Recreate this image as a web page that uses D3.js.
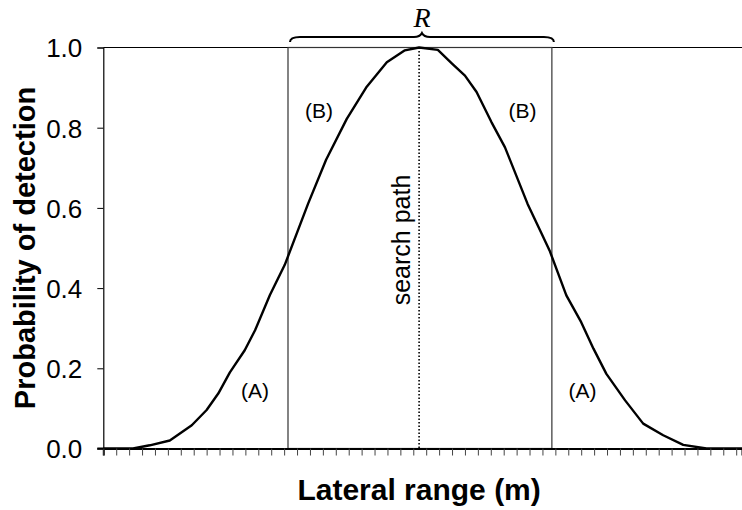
<!DOCTYPE html>
<html>
<head>
<meta charset="utf-8">
<script src="https://cdn.jsdelivr.net/npm/d3@7"></script>
<style>
  body { margin: 0; background: #fff; }
  svg { display: block; font-family: Arial, "Liberation Sans", sans-serif; }
</style>
</head>
<body>
<svg id="chart" width="742" height="510"></svg>
<script>
// Data (x in tick units, y = probability)
var curveX = [0, 2.3, 3.6, 5.15, 6.85, 8.0, 8.9, 9.8, 10.95, 11.75, 12.9, 14.05, 15.85, 17.25, 18.85, 20.35, 21.95, 23.35, 24.45,
  25.9, 27.0, 28.0, 28.9, 30.05, 31.1, 32.85, 33.95, 34.55, 35.85, 37.0, 37.95, 38.95, 40.4, 41.8, 43.35, 44.9, 46.7, 49.45];
var curveY = [0, 0, 0.008, 0.02, 0.058, 0.096, 0.137, 0.19, 0.245, 0.295, 0.383, 0.458, 0.61, 0.72, 0.822, 0.9, 0.963, 0.993, 1.0,
  0.994, 0.96, 0.93, 0.889, 0.814, 0.751, 0.61, 0.535, 0.494, 0.382, 0.315, 0.249, 0.186, 0.12, 0.062, 0.033, 0.009, 0, 0];
var yTicks = [0, 0.2, 0.4, 0.6, 0.8, 1.0];
var xTickCount = 50;
var sweepLeft = 14.3, sweepRight = 34.73;
var searchPath = 24.45;
var labels = [
  {text: "(B)", x: 16.7, y: 0.823},
  {text: "(B)", x: 32.45, y: 0.823},
  {text: "(A)", x: 11.74, y: 0.125},
  {text: "(A)", x: 37.11, y: 0.125}
];

const svg = d3.select("#chart");
const margin = { left: 103.3, top: 47.5, bottom: 448.5 };

const x = d3.scaleLinear().domain([0, 49.45]).range([margin.left, 742]);
const y = d3.scaleLinear().domain([0, 1]).range([margin.bottom, margin.top]);

// Top line at 1.0
svg.append("line")
  .attr("x1", x(0)).attr("x2", x(49.45))
  .attr("y1", y(1)).attr("y2", y(1))
  .attr("stroke", "#000").attr("stroke-width", 1.2);

// sweep rectangle
svg.append("rect")
  .attr("x", x(sweepLeft))
  .attr("y", y(1))
  .attr("width", x(sweepRight) - x(sweepLeft))
  .attr("height", y(0) - y(1))
  .attr("fill", "none")
  .attr("stroke", "#333")
  .attr("stroke-width", 1.2);

// search path
svg.append("line")
  .attr("x1", x(searchPath)).attr("x2", x(searchPath))
  .attr("y1", y(1)).attr("y2", y(0))
  .attr("stroke", "#000")
  .attr("stroke-width", 1.6)
  .attr("stroke-dasharray", "1.5,2");

svg.append("text")
  .attr("transform", `translate(${x(searchPath) - 9},240) rotate(-90)`)
  .attr("text-anchor", "middle")
  .style("font-size", "25px")
  .text("search path");

// curve
const pts = curveX.map((d, i) => [d, curveY[i]]);
svg.append("path")
  .datum(pts)
  .attr("fill", "none")
  .attr("stroke", "#000")
  .attr("stroke-width", 2.4)
  .attr("stroke-linejoin", "round")
  .attr("d", d3.line().x(d => x(d[0])).y(d => y(d[1])));

// axes
const yaxis = d3.axisLeft(y).tickValues(yTicks).tickFormat(d3.format(".1f")).tickSizeOuter(0).tickSize(6).tickPadding(15);
const gy = svg.append("g").attr("transform", `translate(${x(0)},0)`).call(yaxis);
gy.selectAll("text").style("font-size", "26px").style("fill", "#000").attr("dy", "0.36em");
gy.select(".domain").attr("stroke-width", 1.2);

const xaxis = d3.axisBottom(x).tickValues(d3.range(xTickCount)).tickFormat("").tickSizeOuter(0).tickSize(7);
const gx = svg.append("g").attr("transform", `translate(0,${y(0)})`).call(xaxis);
gx.select(".domain").attr("stroke-width", 2);
gx.selectAll(".tick line").attr("stroke", "#444");
// extend baseline to the left tick
svg.append("line")
  .attr("x1", x(0) - 6).attr("x2", x(0))
  .attr("y1", y(0)).attr("y2", y(0))
  .attr("stroke", "#000").attr("stroke-width", 2);

// region labels
svg.selectAll(".lab")
  .data(labels)
  .enter()
  .append("text")
  .attr("class", "lab")
  .attr("x", d => x(d.x))
  .attr("y", d => y(d.y))
  .attr("text-anchor", "middle")
  .style("font-size", "21px")
  .text(d => d.text);

// brace for R
const bl = x(sweepLeft) + 2, br = x(sweepRight) + 2, bm = (bl + br) / 2;
const by = 37;
svg.append("path")
  .attr("fill", "none")
  .attr("stroke", "#000")
  .attr("stroke-width", 2)
  .attr("d", `M${bl},${by + 5} Q${bl},${by} ${bl + 10},${by} L${bm - 8},${by} Q${bm - 2},${by} ${bm},${by - 4}`
    + ` Q${bm + 2},${by} ${bm + 8},${by} L${br - 10},${by} Q${br},${by} ${br},${by + 5}`);

svg.append("text")
  .attr("x", bm)
  .attr("y", 27)
  .attr("text-anchor", "middle")
  .style("font-family", "'Liberation Serif', 'Times New Roman', serif")
  .style("font-style", "italic")
  .style("font-size", "28px")
  .text("R");

// axis titles
svg.append("text")
  .attr("transform", `translate(35,${y(0.5)}) rotate(-90)`)
  .attr("text-anchor", "middle")
  .style("font-size", "29px")
  .style("font-weight", "bold")
  .text("Probability of detection");

svg.append("text")
  .attr("x", x(searchPath))
  .attr("y", 500)
  .attr("text-anchor", "middle")
  .style("font-size", "30px")
  .style("font-weight", "bold")
  .text("Lateral range (m)");
</script>
</body>
</html>
